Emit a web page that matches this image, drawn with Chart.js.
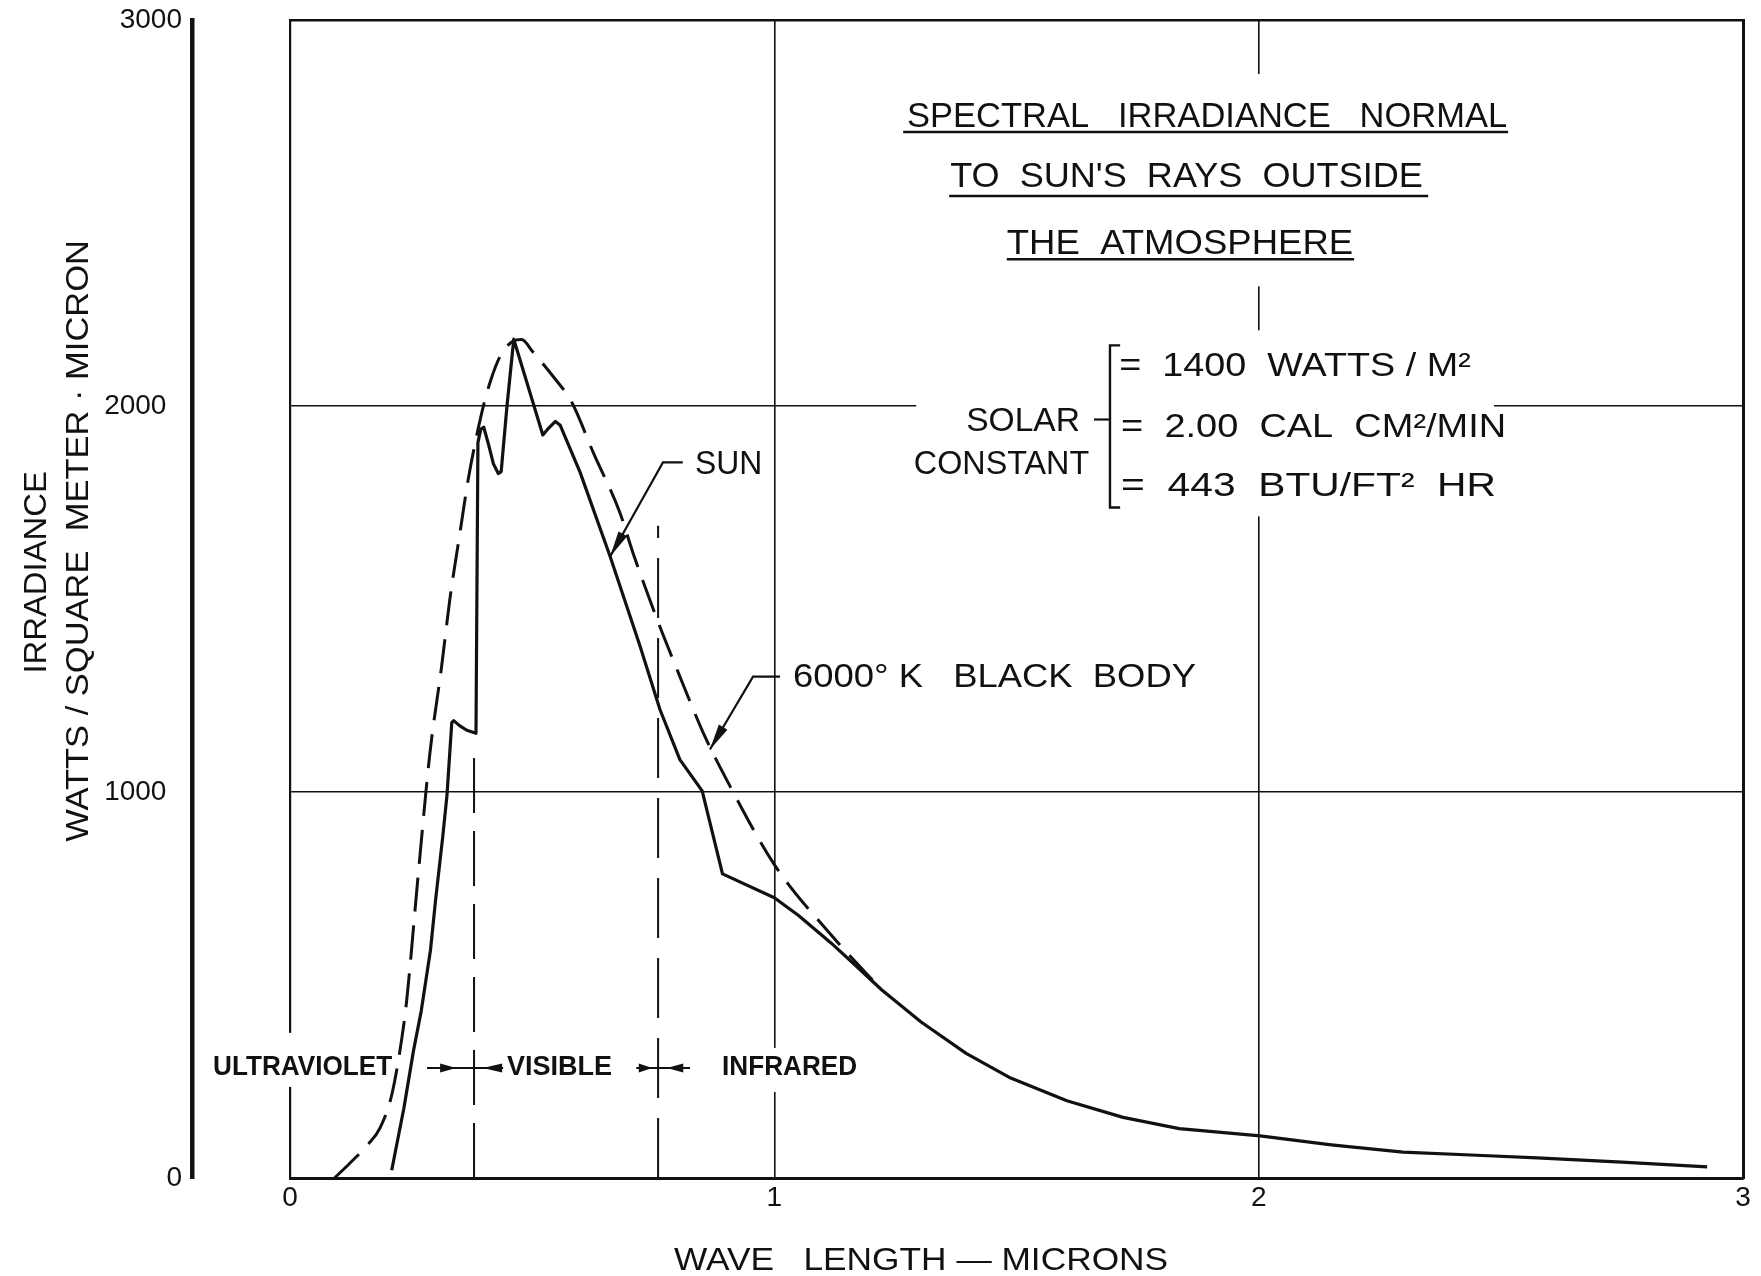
<!DOCTYPE html>
<html><head><meta charset="utf-8">
<script src="https://cdn.jsdelivr.net/npm/chart.js@4.4.0/dist/chart.umd.min.js"></script>
<style>html,body{margin:0;padding:0;background:#fff}#wrap{width:1761px;height:1276px;position:relative}</style>
</head><body><div id="wrap"><canvas id="c"></canvas></div>
<script>
// ---------------- data ----------------
const sunWavelength = [0.21,0.235,0.255,0.271,0.29,0.301,0.315,0.324,0.334,0.338,0.35,0.365,0.384,0.388,0.394,0.40,0.41,0.42,0.43,0.436,0.448,0.462,0.522,0.532,0.548,0.558,0.599,0.661,0.723,0.764,0.805,0.851,0.893,1.0,1.05,1.117,1.17,1.222,1.303,1.396,1.488,1.604,1.72,1.836,2.003,2.15,2.298,2.45,2.575,2.75,2.926];
const sunIrradiance = [20,180,330,433,590,725,880,990,1180,1185,1172,1160,1152,1905,1940,1945,1900,1850,1825,1830,2000,2173,1925,1940,1960,1950,1828,1610,1377,1213,1084,1003,788,726,680,609,548,487,404,323,259,200,157,128,109,86,67,59,52,41,29];

const blackBodyWavelength = [0.092,0.124,0.159,0.186,0.21,0.231,0.241,0.265,0.289,0.313,0.33,0.351,0.368,0.396,0.413,0.434,0.461,0.478,0.502,0.543,0.582,0.626,0.681,0.708,0.758,0.805,0.853,0.909,1.0,1.117,1.222];
const blackBodyIrradiance = [0,39,84,130,215,363,461,790,1102,1325,1499,1672,1810,1983,2061,2129,2168,2172,2139,2077,2009,1880,1724,1620,1447,1299,1154,1014,812,630,487];

const bandBoundaries = [0.38, 0.76];
const bandBoundaryTops = [1115, 1690];
const bandNames = ['ULTRAVIOLET', 'VISIBLE', 'INFRARED'];

const xTickValues = [0, 1, 2, 3];
const yTickValues = [0, 1000, 2000, 3000];

const titleLines = ['SPECTRAL   IRRADIANCE   NORMAL', "TO  SUN'S  RAYS  OUTSIDE", 'THE  ATMOSPHERE'];
const solarConstantLabel = ['SOLAR', 'CONSTANT'];
const solarConstantLines = ['=  1400  WATTS / M\u00B2', '=  2.00  CAL  CM\u00B2/MIN', '=  443  BTU/FT\u00B2  HR'];
const sunLabel = 'SUN';
const blackBodyLabel = '6000\u00B0 K   BLACK  BODY';
const xAxisTitle = 'WAVE   LENGTH \u2014 MICRONS';
const yAxisTitle = ['IRRADIANCE', 'WATTS / SQUARE  METER \u00B7 MICRON'];

// ---------------- helpers ----------------
const INK = '#111';
const FAMILY = '"Liberation Sans", Arial, sans-serif';
const toPoints = (xs, ys) => xs.map((x, i) => ({x, y: ys[i]}));

function P(chart, x, y) {
  return [chart.scales.x.getPixelForValue(x), chart.scales.y.getPixelForValue(y)];
}
function fitText(ctx, text, x1, x2, yb, size, weight) {
  ctx.save();
  ctx.font = (weight || 'normal') + ' ' + size + 'px ' + FAMILY;
  ctx.textBaseline = 'alphabetic';
  ctx.textAlign = 'left';
  ctx.fillStyle = INK;
  const w = ctx.measureText(text).width;
  ctx.translate(x1, yb);
  ctx.scale((x2 - x1) / w, 1);
  ctx.fillText(text, 0, 0);
  ctx.restore();
}
function fitTextUp(ctx, text, xc, yBottom, yTop, size, weight) {
  ctx.save();
  ctx.font = (weight || 'normal') + ' ' + size + 'px ' + FAMILY;
  ctx.textBaseline = 'alphabetic';
  ctx.textAlign = 'left';
  ctx.fillStyle = INK;
  const w = ctx.measureText(text).width;
  ctx.translate(xc + size * 0.36, yBottom);
  ctx.rotate(-Math.PI / 2);
  ctx.scale((yBottom - yTop) / w, 1);
  ctx.fillText(text, 0, 0);
  ctx.restore();
}
function line(ctx, pts, w) {
  ctx.save();
  ctx.strokeStyle = INK; ctx.lineWidth = w || 2; ctx.lineCap = 'butt';
  ctx.beginPath();
  pts.forEach((p, i) => i ? ctx.lineTo(p[0], p[1]) : ctx.moveTo(p[0], p[1]));
  ctx.stroke();
  ctx.restore();
}
function head(ctx, base, tip, hw) {
  const dx = tip[0] - base[0], dy = tip[1] - base[1];
  const L = Math.hypot(dx, dy), nx = -dy / L, ny = dx / L;
  ctx.save();
  ctx.fillStyle = INK;
  ctx.beginPath();
  ctx.moveTo(tip[0], tip[1]);
  ctx.lineTo(base[0] + nx * hw, base[1] + ny * hw);
  ctx.lineTo(base[0] - nx * hw, base[1] - ny * hw);
  ctx.closePath();
  ctx.fill();
  ctx.restore();
}
function leaderArrow(ctx, pts) {
  line(ctx, pts, 2.2);
  const a = pts[pts.length - 2], b = pts[pts.length - 1];
  const dx = b[0] - a[0], dy = b[1] - a[1], L = Math.hypot(dx, dy);
  const base = [b[0] - dx / L * 26, b[1] - dy / L * 26];
  head(ctx, base, b, 5);
}
function mask(ctx, a, b) {
  ctx.save(); ctx.fillStyle = '#fff';
  ctx.fillRect(a[0], a[1], b[0] - a[0], b[1] - a[1]);
  ctx.restore();
}

const annotations = {
  id: 'annotations',
  beforeDatasetsDraw(chart) {
    const ctx = chart.ctx;
    const p = (x, y) => P(chart, x, y);
    // breaks in the grid / frame behind lettering
    mask(ctx, p(1.25, 2860), p(2.53, 2310));
    mask(ctx, p(1.293, 2196), p(2.486, 1714));
    mask(ctx, p(-0.18, 376), p(0.227, 236));
    mask(ctx, p(0.88, 337), p(1.18, 223));

    // title block
    const tl = [[1.274, 2.513, 2722, 1.266, 2.515, 2710],
                [1.363, 2.339, 2567, 1.361, 2.350, 2544],
                [1.480, 2.195, 2393, 1.480, 2.197, 2380]];
    titleLines.forEach((t, i) => {
      const r = tl[i];
      fitText(ctx, t, p(r[0], 0)[0], p(r[1], 0)[0], p(0, r[2])[1], 35);
      line(ctx, [p(r[3], r[5]), p(r[4], r[5])], 2.4);
    });

    // solar constant block
    fitText(ctx, solarConstantLabel[0], p(1.396, 0)[0], p(1.631, 0)[0], p(0, 1934)[1], 33);
    fitText(ctx, solarConstantLabel[1], p(1.288, 0)[0], p(1.650, 0)[0], p(0, 1825)[1], 33);
    line(ctx, [p(1.660, 1965), p(1.693, 1965)], 2.2);
    line(ctx, [p(1.714, 2157), p(1.693, 2157), p(1.693, 1737), p(1.714, 1737)], 2.4);
    const sl = [[1.712, 2.438, 2077], [1.716, 2.511, 1919], [1.716, 2.490, 1766]];
    solarConstantLines.forEach((t, i) => {
      const r = sl[i];
      fitText(ctx, t, p(r[0], 0)[0], p(r[1], 0)[0], p(0, r[2])[1], 33);
    });

    // curve labels
    fitText(ctx, sunLabel, p(0.836, 0)[0], p(0.975, 0)[0], p(0, 1825)[1], 33);
    fitText(ctx, blackBodyLabel, p(1.0385, 0)[0], p(1.8706, 0)[0], p(0, 1273)[1], 33);

    // spectral band labels
    fitText(ctx, bandNames[0], p(-0.159, 0)[0], p(0.211, 0)[0], p(0, 267)[1], 27, 'bold');
    fitText(ctx, bandNames[1], p(0.448, 0)[0], p(0.665, 0)[0], p(0, 267)[1], 27, 'bold');
    fitText(ctx, bandNames[2], p(0.892, 0)[0], p(1.171, 0)[0], p(0, 267)[1], 27, 'bold');

    // axis titles
    fitText(ctx, xAxisTitle, p(0.793, 0)[0], p(1.813, 0)[0], p(0, -238)[1], 32);
    fitTextUp(ctx, yAxisTitle[0], p(-0.5286, 0)[0], p(0, 1307)[1], p(0, 1831)[1], 32);
    fitTextUp(ctx, yAxisTitle[1], p(-0.4418, 0)[0], p(0, 871)[1], p(0, 2430)[1], 32);
  },
  afterDatasetsDraw(chart) {
    const ctx = chart.ctx;
    const p = (x, y) => P(chart, x, y);
    leaderArrow(ctx, [p(0.811, 1854), p(0.770, 1854), p(0.661, 1610)]);
    leaderArrow(ctx, [p(1.0117, 1299), p(0.956, 1299), p(0.867, 1110)]);
    // band boundary arrows
    const ya = 285;
    line(ctx, [p(0.283, ya), p(0.440, ya)], 2.2);
    head(ctx, p(0.310, ya), p(0.343, ya), 4.5);
    head(ctx, p(0.438, ya), p(0.398, ya), 4.5);
    line(ctx, [p(0.715, ya), p(0.826, ya)], 2.2);
    head(ctx, p(0.720, ya), p(0.748, ya), 4.5);
    head(ctx, p(0.812, ya), p(0.778, ya), 4.5);
  }
};

const gridOnly = vals => ctx => (ctx.tick && vals.includes(ctx.tick.value)) ? INK : 'rgba(0,0,0,0)';
const tickFont = {family: FAMILY, size: 28};
// the 1000 and 2000 labels sit a little further left in the original lettering
const yTickLabel = v => (v === 1000 || v === 2000) ? String(v) + '\u2007' : String(v);

new Chart(document.getElementById('c'), {
  type: 'line',
  data: {
    datasets: [
      {label: '6000 K black body', data: toPoints(blackBodyWavelength, blackBodyIrradiance),
       borderColor: INK, borderWidth: 3, borderDash: [34, 14], pointRadius: 0, fill: false,
       cubicInterpolationMode: 'monotone', xAxisID: 'x', yAxisID: 'y'},
      {label: 'Sun', data: toPoints(sunWavelength, sunIrradiance),
       borderColor: INK, borderWidth: 3.2, pointRadius: 0, fill: false, tension: 0,
       borderJoinStyle: 'round', xAxisID: 'x', yAxisID: 'y'},
      ...bandBoundaries.map((b, i) => ({
        label: 'boundary ' + b, data: [{x: b, y: 0}, {x: b, y: bandBoundaryTops[i]}],
        borderColor: INK, borderWidth: 2, borderDash: i ? [60, 20] : [55, 18], pointRadius: 0,
        fill: false, xAxisID: 'x', yAxisID: 'y'}))
    ]
  },
  options: {
    responsive: true, maintainAspectRatio: false, animation: false, events: [],
    layout: {padding: 0},
    plugins: {legend: {display: false}, tooltip: {enabled: false}},
    scales: {
      x: {type: 'linear', position: 'bottom', min: 0, max: 3,
          afterBuildTicks: s => { s.ticks = xTickValues.map(v => ({value: v})); },
          ticks: {font: tickFont, color: INK, padding: 3, maxRotation: 0, callback: v => String(v)},
          grid: {color: gridOnly([1, 2]), lineWidth: 1.6, drawTicks: false},
          border: {display: true, color: INK, width: 3},
          afterFit: s => { s.height = 98; s.paddingLeft = 0; s.paddingRight = 0; }},
      xTop: {type: 'linear', position: 'top', min: 0, max: 3, display: true,
          ticks: {display: false}, grid: {display: false, drawTicks: false},
          border: {display: true, color: INK, width: 2.5},
          afterFit: s => { s.height = 20; }},
      y: {type: 'linear', position: 'left', min: 0, max: 3000, weight: 0,
          afterBuildTicks: s => { s.ticks = yTickValues.map(v => ({value: v})); },
          ticks: {display: false},
          grid: {color: gridOnly([1000, 2000]), lineWidth: 1.6, drawTicks: false},
          border: {display: true, color: INK, width: 2.2},
          afterFit: s => { s.width = 98; s.paddingTop = 0; s.paddingBottom = 0; }},
      yl: {type: 'linear', position: 'left', min: 0, max: 3000, weight: 10, display: true,
          afterBuildTicks: s => { s.ticks = yTickValues.map(v => ({value: v})); },
          ticks: {font: tickFont, color: INK, padding: 10, callback: yTickLabel},
          grid: {display: false, drawTicks: false},
          border: {display: true, color: INK, width: 4.5},
          afterFit: s => { s.width = 192; s.paddingTop = 0; s.paddingBottom = 0; }},
      yRight: {type: 'linear', position: 'right', min: 0, max: 3000, display: true,
          ticks: {display: false}, grid: {display: false, drawTicks: false},
          border: {display: true, color: INK, width: 3},
          afterFit: s => { s.width = 18; s.paddingTop = 0; s.paddingBottom = 0; }}
    }
  },
  plugins: [annotations]
});
</script>
</body></html>
